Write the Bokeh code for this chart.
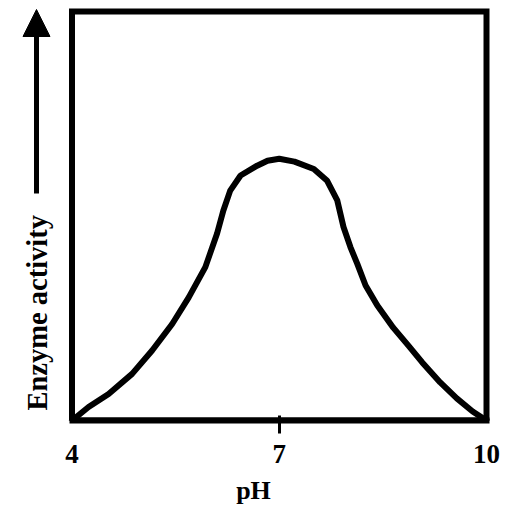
import math
from bokeh.plotting import figure
from bokeh.models import Range1d, FixedTicker, Label, Arrow, NormalHead
from bokeh.embed import file_html
from bokeh.resources import INLINE

# Data
ph = [4.0, 4.24, 4.53, 4.87, 5.16, 5.45, 5.69, 5.93, 6.10, 6.19, 6.29, 6.44, 6.68,
      6.83, 7.0, 7.22, 7.50, 7.69, 7.84, 7.93, 8.03, 8.13, 8.25, 8.42, 8.65, 8.87,
      9.07, 9.33, 9.57, 9.80, 10.0]
activity = [0, 3.3, 6.5, 11.4, 17.1, 23.6, 30.1, 37.5, 45.7, 51.3, 56.2, 59.9, 62.3,
            63.5, 64.0, 63.3, 61.5, 58.7, 53.8, 47.3, 42.4, 38.3, 33.0, 28.1, 22.7, 18.3,
            14.2, 9.3, 5.4, 2.2, 0]
x_ticks = [4, 7, 10]
x_minor_ticks = [7]
x_label = "pH"
y_label = "Enzyme activity"
ph_min, ph_max = 4, 10
act_min, act_max = 0, 100

FONT = "Liberation Serif"

# Layout (pixels): figure 506x508; the box spans x 71.5..486, y 11..420
W, H = 506, 508
box_left, box_right, box_top, box_bottom = 71.5, 486.0, 11.0, 420.0
frame_right = W
sx = (box_right - box_left) / (ph_max - ph_min)
sy = (box_bottom - box_top) / (act_max - act_min)
x0 = ph_min - box_left / sx
x1 = ph_max + (frame_right - box_right) / sx
y1 = act_max + box_top / sy

p = figure(width=W, height=H,
           x_range=Range1d(x0, x1), y_range=Range1d(act_min, y1),
           output_backend="svg", toolbar_location=None,
           y_axis_location=None,
           min_border_left=0, min_border_right=0,
           min_border_top=0, min_border_bottom=int(H - box_bottom))

p.background_fill_color = "white"
p.border_fill_color = "white"
p.outline_line_color = None
p.grid.visible = False

# the box around the plot
p.quad(left=[ph_min], right=[ph_max], bottom=[act_min], top=[act_max],
       fill_color=None, line_color="black", line_width=6, line_join="miter")

xa = p.xaxis[0]
xa.ticker = FixedTicker(ticks=x_ticks, minor_ticks=x_minor_ticks)
xa.bounds = (ph_min, ph_max)
xa.axis_line_color = "black"
xa.axis_line_width = 6
xa.axis_line_cap = "square"
xa.major_tick_in = 0
xa.major_tick_out = 0
xa.major_tick_line_color = None
xa.minor_tick_in = 5
xa.minor_tick_out = 13
xa.minor_tick_line_width = 3
xa.minor_tick_line_color = "black"
xa.major_label_text_font = FONT
xa.major_label_text_font_style = "bold"
xa.major_label_text_font_size = "27px"
xa.major_label_text_color = "black"
xa.major_label_standoff = 11
xa.axis_label = x_label
xa.axis_label_text_font = FONT
xa.axis_label_text_font_style = "bold"
xa.axis_label_text_font_size = "26px"
xa.axis_label_text_color = "black"
xa.axis_label_standoff = 10

p.line(ph, activity, line_color="black", line_width=6, line_join="round", line_cap="round")

# y-axis title and arrow, placed in the left margin of the box
label_base_px, label_start_px = 37.0, 410.0
ylab = Label(x=x0 + label_base_px / sx, y=(box_bottom - label_start_px) / sy,
             text=y_label, angle=math.pi / 2,
             text_align="left", text_baseline="alphabetic",
             text_font=FONT, text_font_style="bold", text_font_size="28.5px",
             text_color="black")
p.add_layout(ylab)

arrow_x_px, arrow_tail_px, arrow_tip_px = 36.0, 193.0, 9.0
ax = x0 + arrow_x_px / sx
arrow = Arrow(x_start=ax, y_start=(box_bottom - arrow_tail_px) / sy,
              x_end=ax, y_end=(box_bottom - arrow_tip_px) / sy,
              line_width=5, line_color="black", start=None,
              end=NormalHead(size=27, fill_color="black", line_color="black", line_width=1))
p.add_layout(arrow)

open("out.html", "w").write(file_html(p, INLINE))
